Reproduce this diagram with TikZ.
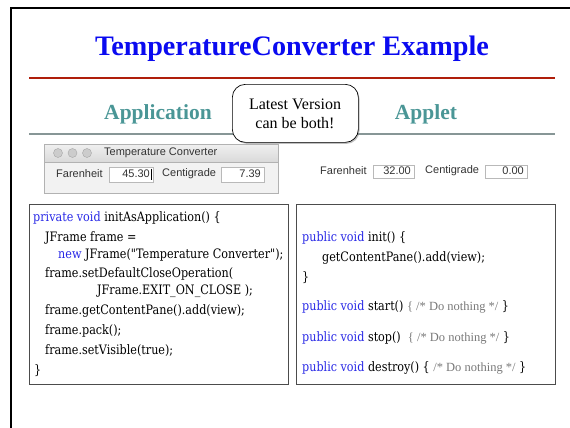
\documentclass[tikz,border=0pt]{standalone}
\usepackage{fontspec}
\setmainfont{Liberation Serif}
\newfontfamily\uifont{Liberation Sans}
\newfontfamily\codefont[FakeStretch=0.86]{DejaVu Serif}
\newfontfamily\cmtfont{Liberation Serif}
\usetikzlibrary{shadows}
\definecolor{titleblue}{RGB}{10,10,240}
\definecolor{headteal}{RGB}{74,150,150}
\definecolor{rulered}{RGB}{175,30,10}
\definecolor{rulegray}{RGB}{135,150,150}
\definecolor{kwblue}{RGB}{40,40,230}
\definecolor{cmtgray}{RGB}{120,120,120}
\newcommand{\kwd}[1]{{\color{kwblue}#1}}
\newcommand{\cmt}[1]{{\cmtfont\fontsize{12.5}{14}\selectfont\color{cmtgray}#1}}
\tikzset{
  codeline/.style={anchor=west, inner sep=0pt, font=\codefont\fontsize{13}{15}\selectfont},
  uitext/.style={inner sep=0pt, font=\uifont\fontsize{11}{13}\selectfont, text=black!80},
  field/.style={draw=gray!55, fill=white, line width=0.6pt, anchor=north west, inner sep=0pt},
  codebox/.style={draw=black!70, line width=1.2pt, anchor=north west, inner sep=0pt,
    minimum width=259pt, minimum height=180pt},
  heading/.style={inner sep=0pt, font=\bfseries\fontsize{21.5}{24}\selectfont, text=headteal},
  macbtn/.style={circle, draw=gray!70, fill=gray!40, inner sep=0pt, minimum size=9pt}
}
\begin{document}
\begin{tikzpicture}[x=1pt,y=-1pt]
\useasboundingbox (0,0) rectangle (570,428);
% slide frame
\coordinate (fb) at (11,428);
\coordinate (fc) at (11,8);
\coordinate (fr) at (570,8);
\draw[line width=2.6pt] (fb) -- (fc) -- (fr);
% title
\node[inner sep=0pt, font=\bfseries\fontsize{28.2}{32}\selectfont, text=titleblue] (title) at (292,49) {TemperatureConverter Example};
\coordinate (rl) at (29,78);
\coordinate (rr) at (555,78);
\draw[rulered, line width=1.6pt] (rl) -- (rr);
% headings
\node[heading] (happ) at (158,114) {Application};
\node[heading] (hapl) at (426,114) {Applet};
\coordinate (gl) at (29,134);
\coordinate (gr) at (555,134);
\draw[rulegray, line width=2.4pt] (gl) -- (gr);
% callout
\node[draw=black, line width=0.7pt, fill=white, rounded corners=13pt, drop shadow={shadow xshift=1.2pt, shadow yshift=-1.5pt, opacity=0.5},
  minimum width=126pt, minimum height=58pt, anchor=north west, inner sep=0pt] (callout) at (232,84) {};
\node[inner sep=0pt, font=\fontsize{16}{18}\selectfont] (c1) at (295,104) {Latest Version};
\node[inner sep=0pt, font=\fontsize{16}{18}\selectfont] (c2) at (295,123) {can be both!};
% application window
\node[draw=gray!60, fill=gray!10, line width=0.6pt, anchor=north west, minimum width=234pt, minimum height=49pt, inner sep=0pt] (win) at (44,144) {};
\node[draw=gray!60, top color=gray!12, bottom color=gray!30, line width=0.6pt, anchor=north west, minimum width=234pt, minimum height=18pt, inner sep=0pt] (tbar) at (44,144) {};
\node[macbtn] (b1) at (58,153) {};
\node[macbtn] (b2) at (72.5,153) {};
\node[macbtn] (b3) at (87,153) {};
\node[uitext, anchor=west] (wtitle) at (104,153) {Temperature Converter};
\node[uitext, anchor=west] (af) at (56,174) {Farenheit};
\node[field, minimum width=44pt, minimum height=15pt] (af1) at (109,166.5) {};
\node[uitext, anchor=east] (afv) at (150,174) {45.30};
\coordinate (cur1) at (151.5,168.5);
\coordinate (cur2) at (151.5,179.5);
\draw[black, line width=0.5pt] (cur1) -- (cur2);
\node[uitext, anchor=west] (ac) at (162,174) {Centigrade};
\node[field, minimum width=43pt, minimum height=15pt] (ac1) at (221,166.5) {};
\node[uitext, anchor=east] (acv) at (261,174) {7.39};
% applet
\node[uitext, anchor=west] (pf) at (320,171) {Farenheit};
\node[field, minimum width=41pt, minimum height=13pt] (pf1) at (373,164.5) {};
\node[uitext, anchor=east] (pfv) at (411,171) {32.00};
\node[uitext, anchor=west] (pc) at (425,171) {Centigrade};
\node[field, minimum width=42pt, minimum height=13pt] (pc1) at (485,164.5) {};
\node[uitext, anchor=east] (pcv) at (524,171) {0.00};
% code boxes
\node[codebox] (lbox) at (29,204) {};
\node[codebox] (rbox) at (296,204) {};
% left code
\node[codeline] (l1) at (33,218) {\kwd{private void} initAsApplication() \{};
\node[codeline] (l2) at (45,238) {JFrame frame =};
\node[codeline] (l3) at (58,255) {\kwd{new} JFrame("Temperature Converter");};
\node[codeline] (l4) at (45,274) {frame.setDefaultCloseOperation(};
\node[codeline] (l5) at (97,291) {JFrame.EXIT\_ON\_CLOSE );};
\node[codeline] (l6) at (45,311) {frame.getContentPane().add(view);};
\node[codeline] (l7) at (45,331) {frame.pack();};
\node[codeline] (l8) at (45,351) {frame.setVisible(true);};
\node[codeline] (l9) at (34,371) {\}};
% right code
\node[codeline] (r1) at (302,238) {\kwd{public void} init() \{};
\node[codeline] (r2) at (322,258) {getContentPane().add(view);};
\node[codeline] (r3) at (302,278) {\}};
\node[codeline] (r4) at (302,307) {\kwd{public void} start() \cmt{\{ /* Do nothing */} \}};
\node[codeline] (r5) at (302,338) {\kwd{public void} stop()\ \ \cmt{\{ /* Do nothing */} \}};
\node[codeline] (r6) at (302,368) {\kwd{public void} destroy() \{ \cmt{/* Do nothing */} \}};
\end{tikzpicture}
\end{document}
